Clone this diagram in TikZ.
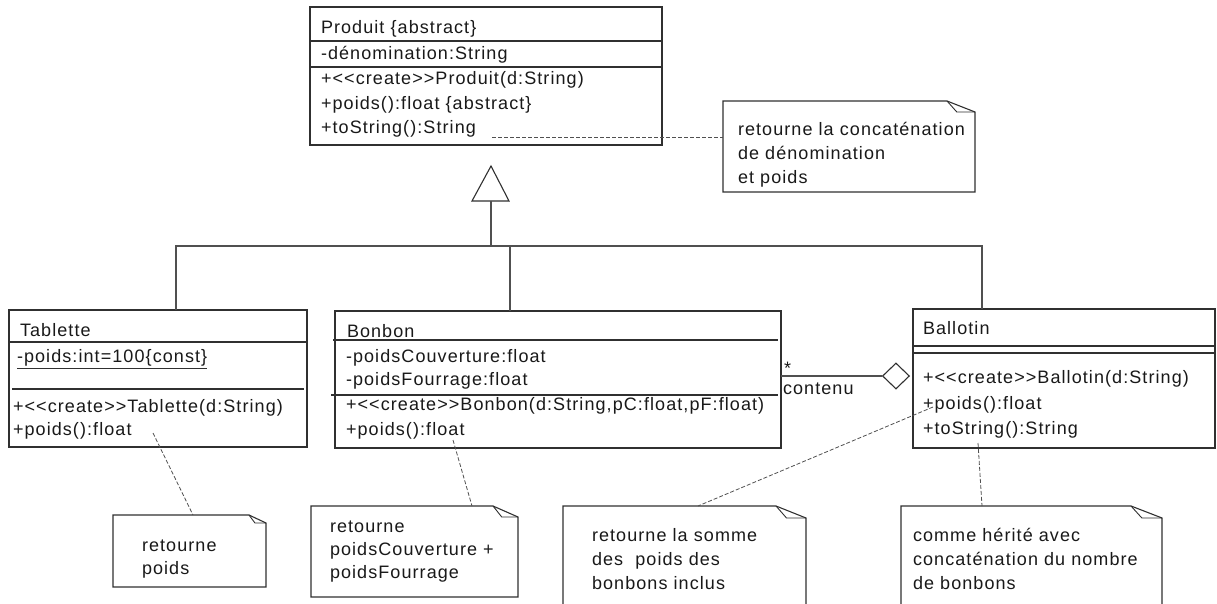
\documentclass[tikz,border=0pt]{standalone}
\usepackage{fontspec}
\setmainfont{Liberation Sans}[Ligatures=TeXOff, LetterSpace=6]
\usetikzlibrary{calc,shapes.geometric}
\definecolor{ln}{HTML}{303030}
\definecolor{cn}{HTML}{505050}
\tikzset{
  boxline/.style={draw=ln, line width=1.2pt},
  classbox/.style={boxline, rectangle, inner sep=0pt, outer sep=0pt},
  txt/.style={anchor=base west, inner sep=0pt, outer sep=0pt, font=\fontsize{18}{24}\selectfont, text=black!90},
  conn/.style={draw=cn, line width=1.1pt},
  notelink/.style={draw=cn, line width=0.8pt, dash pattern=on 4pt off 2pt},
  notebox/.style={rectangle, inner sep=0pt, outer sep=0pt},
  noteline/.style={draw=ln, line width=1.1pt, line join=miter},
}
\newcommand{\drawnote}[3]{%
  \draw[noteline] (#1.north west) -- ($(#1.north east)+(-#2,0)$) -- ($(#1.north east)+(0,#3)$) -- (#1.south east) -- (#1.south west) -- cycle;
  \draw[noteline, line width=0.9pt] ($(#1.north east)+(-#2,0)$) -- ($(#1.north east)+(-0.65*#2,#3)$) -- ($(#1.north east)+(0,#3)$);
}
\begin{document}
\begin{tikzpicture}[x=1pt, y=-1pt]
\useasboundingbox (0,0) rectangle (1217,604);
\clip (0,0) rectangle (1217,604);
\fill[white] (0,0) rectangle (1217,604);

% ---------- Produit ----------
\node[classbox, minimum width=352pt, minimum height=138pt] (produit) at (486,76) {};
\draw[boxline] ($(produit.north west)+(0,34)$) -- ($(produit.north east)+(0,34)$);
\draw[boxline] ($(produit.north west)+(0,60)$) -- ($(produit.north east)+(0,60)$);
\node[txt] (pr-name) at (321,34) {Produit \{abstract\}};
\node[txt] (pr-a1) at (321,60) {-dénomination:String};
\node[txt] (pr-o1) at (321,85) {+<<create>>Produit(d:String)};
\node[txt] (pr-o2) at (321,110) {+poids():float \{abstract\}};
\node[txt] (pr-o3) at (321,134) {+toString():String};

% ---------- Tablette ----------
\node[classbox, minimum width=298pt, minimum height=137pt] (tablette) at (158,378.5) {};
\draw[boxline] ($(tablette.north west)+(0,32)$) -- ($(tablette.north east)+(0,32)$);
\draw[boxline] ($(tablette.north west)+(3,79)$) -- ($(tablette.north east)+(-3,79)$);
\node[txt] (ta-name) at (20,336) {Tablette};
\node[txt] (ta-a1) at (17,362) {-poids:int=100\{const\}};
\draw[boxline, line width=1pt] ($(ta-a1.base west)+(0,6)$) -- ($(ta-a1.base east)+(0,6)$);
\node[txt] (ta-o1) at (13,412) {+<<create>>Tablette(d:String)};
\node[txt] (ta-o2) at (13,435) {+poids():float};

% ---------- Bonbon ----------
\node[classbox, minimum width=446pt, minimum height=137pt] (bonbon) at (558,379.5) {};
\draw[boxline] ($(bonbon.north west)+(-2,29)$) -- ($(bonbon.north east)+(-3,29)$);
\draw[boxline] ($(bonbon.north west)+(-4,84)$) -- ($(bonbon.north east)+(-3,84)$);
\node[txt] (bo-name) at (347,337) {Bonbon};
\node[txt] (bo-a1) at (346,362) {-poidsCouverture:float};
\node[txt] (bo-a2) at (346,385) {-poidsFourrage:float};
\node[txt] (bo-o1) at (346,410) {+<<create>>Bonbon(d:String,pC:float,pF:float)};
\node[txt] (bo-o2) at (346,435) {+poids():float};

% ---------- Ballotin ----------
\node[classbox, minimum width=302pt, minimum height=139pt] (ballotin) at (1064,378.5) {};
\draw[boxline] ($(ballotin.north west)+(0,37)$) -- ($(ballotin.north east)+(0,37)$);
\draw[boxline] ($(ballotin.north west)+(0,44)$) -- ($(ballotin.north east)+(0,44)$);
\node[txt] (ba-name) at (923,334) {Ballotin};
\node[txt] (ba-o1) at (923,383) {+<<create>>Ballotin(d:String)};
\node[txt] (ba-o2) at (923,409) {+poids():float};
\node[txt] (ba-o3) at (923,434) {+toString():String};

% ---------- Inheritance ----------
\coordinate (apex) at (491,166);
\coordinate (tribase) at (491,201);
\coordinate (bus) at (491,246);
\draw[boxline, line width=1.1pt, fill=white] (apex) -- (472,201) -- (509,201) -- cycle;
\draw[conn] (tribase) -- (bus);
\draw[conn] (tablette.north -| 176,0) -- (176,246) -- (982,246) -- (ballotin.north -| 982,0);
\draw[conn] (bonbon.north -| 510,0) -- (510,246);

% ---------- Aggregation ----------
\node[diamond, draw=ln, line width=1.1pt, fill=white, minimum width=27pt, minimum height=26pt, inner sep=0pt, anchor=east] (agg) at (910,376) {};
\draw[conn] (bonbon.east |- agg) -- (agg.west);
\node[txt] (mult) at (784,374) {*};
\node[txt] (role) at (783,394) {contenu};

% ---------- Notes ----------
\node[notebox, minimum width=252pt, minimum height=91pt] (n1) at (849,146.5) {};
\drawnote{n1}{28}{11}
\node[txt] (n1-l1) at (738,136) {retourne la concaténation};
\node[txt] (n1-l2) at (738,160) {de dénomination};
\node[txt] (n1-l3) at (738,183) {et poids};

\node[notebox, minimum width=153pt, minimum height=72pt] (n2) at (189.5,551) {};
\drawnote{n2}{17}{8}
\node[txt] (n2-l1) at (142,551) {retourne};
\node[txt] (n2-l2) at (142,574) {poids};

\node[notebox, minimum width=207pt, minimum height=91pt] (n3) at (414.5,551.5) {};
\drawnote{n3}{25}{11}
\node[txt] (n3-l1) at (330,532) {retourne};
\node[txt] (n3-l2) at (330,555) {poidsCouverture +};
\node[txt] (n3-l3) at (330,578) {poidsFourrage};

\node[notebox, minimum width=243pt, minimum height=134pt] (n4) at (684.5,573) {};
\drawnote{n4}{30}{12}
\node[txt] (n4-l1) at (592,541) {retourne la somme};
\node[txt] (n4-l2) at (592,565) {des\ \ poids des};
\node[txt] (n4-l3) at (592,589) {bonbons inclus};

\node[notebox, minimum width=261pt, minimum height=134pt] (n5) at (1031.5,573) {};
\drawnote{n5}{31}{12}
\node[txt] (n5-l1) at (913,541) {comme hérité avec};
\node[txt] (n5-l2) at (913,565) {concaténation du nombre};
\node[txt] (n5-l3) at (913,589) {de bonbons};

% ---------- Note links ----------
\coordinate (pr-ts) at (492,137);
\draw[notelink] (pr-ts) -- (n1.west |- pr-ts);
\coordinate (ta-p) at (153,433);
\draw[notelink] (ta-p) -- (n2.north -| 193,0);
\coordinate (bo-p) at (453,440);
\draw[notelink] (bo-p) -- (n3.north -| 472,0);
\coordinate (ba-p) at (933,407);
\draw[notelink] (ba-p) -- (n4.north -| 698,0);
\coordinate (ba-ts) at (978,443);
\draw[notelink] (ba-ts) -- (n5.north -| 982,0);
\end{tikzpicture}
\end{document}
